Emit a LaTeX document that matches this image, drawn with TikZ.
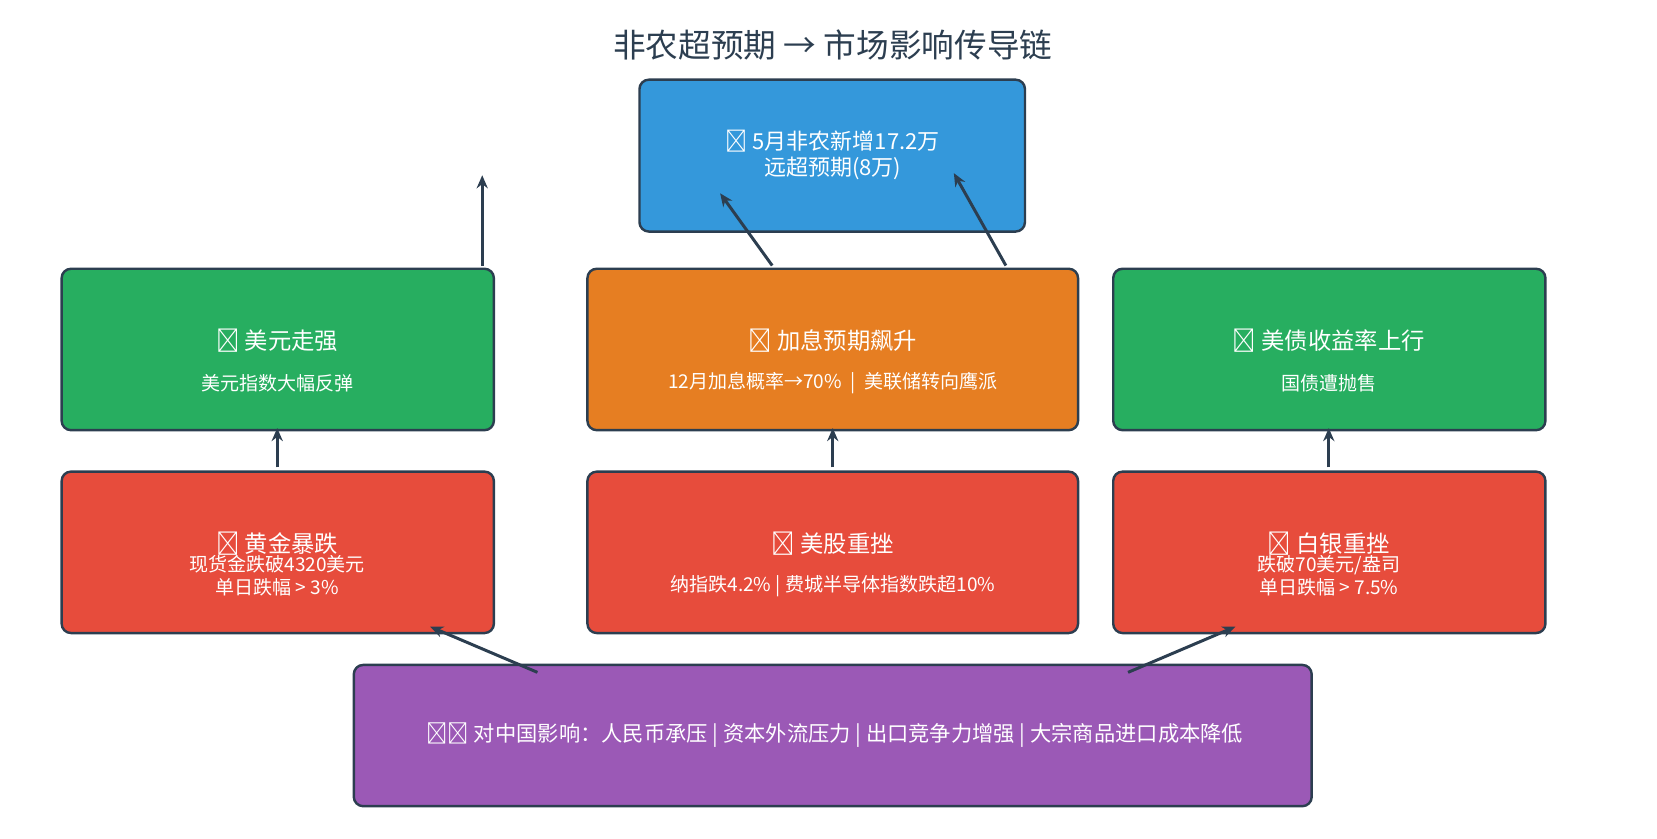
\documentclass[tikz,border=0pt]{standalone}
\usepackage{fontspec}
\setmainfont{Noto Sans CJK SC}
\usepackage{tikz}
\usetikzlibrary{arrows.meta}
\definecolor{ink}{HTML}{2C3E50}
\definecolor{cblue}{HTML}{3498DB}
\definecolor{cgreen}{HTML}{27AE60}
\definecolor{corange}{HTML}{E67E22}
\definecolor{cred}{HTML}{E74C3C}
\definecolor{cpurple}{HTML}{9B59B6}
\tikzset{
  box/.style={draw=ink, line width=1.3pt, rounded corners=5pt, text=white, align=center, inner sep=0pt},
  link/.style={draw=ink, line width=1.6pt, -{Stealth[length=7pt,width=6pt]}},
  head/.style={font=\fontsize{12.5}{15}\selectfont},
  sub/.style={font=\fontsize{10.2}{12.5}\selectfont}
}
\begin{document}
\begin{tikzpicture}[x=0.02cm, y=-0.02cm]
\useasboundingbox (0,0) rectangle (1560,789);

% title
\node[text=ink, font=\fontsize{17.5}{20}\selectfont] (title) at (784,42) {非农超预期 → 市场影响传导链};

% top box
\node[box, fill=cblue, minimum width=7.26cm, minimum height=2.86cm] (nfp) at (783.5,146.5) {};
\node[text=white, font=\fontsize{11.8}{14}\selectfont, align=center] (nfpt) at (784,146) {📊 5月非农新增17.2万\\远超预期(8万)};

% middle row
\node[box, fill=cgreen, minimum width=8.14cm, minimum height=3.04cm] (usd) at (261.5,329) {};
\node[head, text=white] (usdh) at (261,321) {💵 美元走强};
\node[sub, text=white] (usds) at (261,361) {美元指数大幅反弹};

\node[box, fill=corange, minimum width=9.24cm, minimum height=3.04cm] (rate) at (784,329) {};
\node[head, text=white] (rateh) at (784,321) {📈 加息预期飙升};
\node[sub, text=white] (rates) at (784,361) {12月加息概率→70\% \ | \ 美联储转向鹰派};

\node[box, fill=cgreen, minimum width=8.14cm, minimum height=3.04cm] (bond) at (1251.5,329) {};
\node[head, text=white] (bondh) at (1251,321) {📉 美债收益率上行};
\node[sub, text=white] (bonds) at (1251,361) {国债遭抛售};

% lower row
\node[box, fill=cred, minimum width=8.14cm, minimum height=3.04cm] (gold) at (261.5,520) {};
\node[head, text=white] (goldh) at (261,512) {🥇 黄金暴跌};
\node[sub, text=white, align=center] (golds) at (261,542) {现货金跌破4320美元\\单日跌幅 > 3\%};

\node[box, fill=cred, minimum width=9.24cm, minimum height=3.04cm] (stock) at (784,520) {};
\node[head, text=white] (stockh) at (784,512) {📉 美股重挫};
\node[sub, text=white] (stocks) at (784,552) {纳指跌4.2\% | 费城半导体指数跌超10\%};

\node[box, fill=cred, minimum width=8.14cm, minimum height=3.04cm] (silver) at (1251.5,520) {};
\node[head, text=white] (silverh) at (1251,512) {🥈 白银重挫};
\node[sub, text=white, align=center] (silvers) at (1251,542) {跌破70美元/盎司\\单日跌幅 > 7.5\%};

% bottom box
\node[box, fill=cpurple, minimum width=18.04cm, minimum height=2.66cm] (china) at (784,692.5) {};
\node[text=white, font=\fontsize{11.4}{14}\selectfont] (chinat) at (786,692) {🇨🇳 对中国影响：人民币承压 | 资本外流压力 | 出口竞争力增强 | 大宗商品进口成本降低};

% arrows
\coordinate (a1) at (454,250); \coordinate (b1) at (454,165);
\coordinate (a2) at (727,250); \coordinate (b2) at (678,182);
\coordinate (a3) at (947,250); \coordinate (b3) at (898,163);
\coordinate (g1) at (261,440); \coordinate (g2) at (261,403);
\coordinate (s1) at (784,440); \coordinate (s2) at (784,403);
\coordinate (v1) at (1251,440); \coordinate (v2) at (1251,403);
\coordinate (c1) at (506,633); \coordinate (c2) at (405,590);
\coordinate (c3) at (1062,633); \coordinate (c4) at (1163,590);
\draw[link] (a1) -- (b1);
\draw[link] (a2) -- (b2);
\draw[link] (a3) -- (b3);
\draw[link] (g1) -- (g2);
\draw[link] (s1) -- (s2);
\draw[link] (v1) -- (v2);
\draw[link] (c1) -- (c2);
\draw[link] (c3) -- (c4);
\end{tikzpicture}
\end{document}
